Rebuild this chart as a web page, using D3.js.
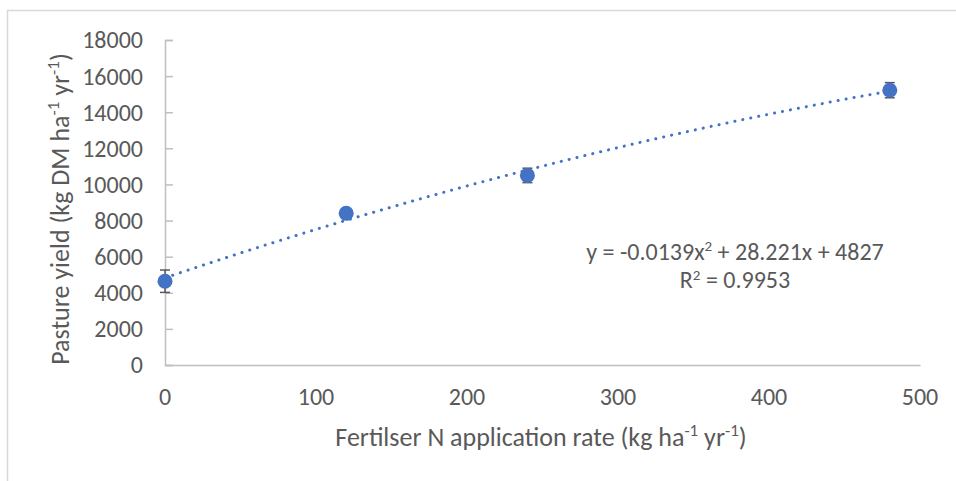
<!DOCTYPE html>
<html>
<head>
<meta charset="utf-8">
<script src="https://cdn.jsdelivr.net/npm/d3@7"></script>
<style>
  body { margin: 0; background: #fff; }
  text { font-family: Carlito, "Open Sans", "Liberation Sans", sans-serif; fill: #595959; }
</style>
</head>
<body>
<svg id="viz"></svg>
<script>
const width = 956
const height = 481

// data
const nRates = [0, 120, 240, 480]
const yields = [4640, 8400, 10500, 15220]
const yieldErr = [620, 180, 400, 420]
const trendCoef = [-0.0139, 28.221, 4827] // a, b, c
const yTicks = [0, 2000, 4000, 6000, 8000, 10000, 12000, 14000, 16000, 18000]
const xTicks = [0, 100, 200, 300, 400, 500]

const points = nRates.map((x, i) => ({ x: x, y: yields[i], e: yieldErr[i] }))

const margin = { top: 40, left: 165, right: 36, bottom: 116 }

const svg = d3.select('#viz').attr('width', width).attr('height', height)

// chart frame
svg
  .append('rect')
  .attr('x', 7.5)
  .attr('y', 10.5)
  .attr('width', width + 20)
  .attr('height', height + 20)
  .attr('fill', 'none')
  .attr('stroke', '#d9d9d9')
  .attr('stroke-width', 1.5)

const x = d3
  .scaleLinear()
  .domain([0, 500])
  .range([margin.left, width - margin.right])

const y = d3
  .scaleLinear()
  .domain([0, 18000])
  .range([height - margin.bottom, margin.top])

// y axis (ticks point inward, like Excel)
const yAxis = svg
  .append('g')
  .attr('transform', `translate(${margin.left}, 0)`)
  .call(d3.axisRight(y).tickValues(yTicks).tickSize(8).tickFormat(''))
yAxis.select('.domain').attr('stroke', '#bfbfbf').attr('stroke-width', 1.5)
yAxis.selectAll('.tick line').attr('stroke', '#bfbfbf').attr('stroke-width', 1.5)

svg
  .append('g')
  .selectAll('text')
  .data(yTicks)
  .join('text')
  .attr('x', margin.left - 22)
  .attr('y', (d) => y(d))
  .attr('dy', '0.35em')
  .attr('text-anchor', 'end')
  .attr('font-size', 24)
  .text((d) => d)

// x axis
const xAxis = svg
  .append('g')
  .attr('transform', `translate(0, ${y(0)})`)
  .call(d3.axisBottom(x).tickValues(xTicks).tickSize(0).tickFormat(''))
xAxis.select('.domain').attr('stroke', '#bfbfbf').attr('stroke-width', 1.5)

svg
  .append('g')
  .selectAll('text')
  .data(xTicks)
  .join('text')
  .attr('x', (d) => x(d))
  .attr('y', y(0) + 40)
  .attr('text-anchor', 'middle')
  .attr('font-size', 24)
  .text((d) => d)

// axis titles
const xTitle = svg
  .append('text')
  .attr('x', 541)
  .attr('y', 446)
  .attr('text-anchor', 'middle')
  .attr('font-size', 26)
xTitle.append('tspan').text('Fertilser N application rate (kg ha')
xTitle.append('tspan').attr('dy', -10).attr('font-size', 17).text('-1')
xTitle.append('tspan').attr('dy', 10).text(' yr')
xTitle.append('tspan').attr('dy', -10).attr('font-size', 17).text('-1')
xTitle.append('tspan').attr('dy', 10).text(')')

const yTitle = svg
  .append('text')
  .attr('transform', `translate(69, 209) rotate(-90)`)
  .attr('text-anchor', 'middle')
  .attr('font-size', 26)
yTitle.append('tspan').text('Pasture yield (kg DM ha')
yTitle.append('tspan').attr('dy', -10).attr('font-size', 17).text('-1')
yTitle.append('tspan').attr('dy', 10).text(' yr')
yTitle.append('tspan').attr('dy', -10).attr('font-size', 17).text('-1')
yTitle.append('tspan').attr('dy', 10).text(')')

// polynomial trendline from the fitted coefficients
const trendX = d3.range(0, 481, 4)
const trend = trendX.map((v) => ({
  x: v,
  y: trendCoef[0] * v * v + trendCoef[1] * v + trendCoef[2],
}))
svg
  .append('path')
  .datum(trend)
  .attr('fill', 'none')
  .attr('stroke', '#4472c4')
  .attr('stroke-width', 3)
  .attr('stroke-linecap', 'round')
  .attr('stroke-dasharray', '0.1 8')
  .attr(
    'd',
    d3
      .line()
      .x((d) => x(d.x))
      .y((d) => y(d.y))
  )

// error bars
const err = svg.append('g').attr('stroke', '#595959').attr('stroke-width', 1.5)
err
  .selectAll('.stem')
  .data(points)
  .join('line')
  .attr('x1', (d) => x(d.x))
  .attr('x2', (d) => x(d.x))
  .attr('y1', (d) => y(d.y - d.e))
  .attr('y2', (d) => y(d.y + d.e))
err
  .selectAll('.capTop')
  .data(points)
  .join('line')
  .attr('x1', (d) => x(d.x) - 5)
  .attr('x2', (d) => x(d.x) + 5)
  .attr('y1', (d) => y(d.y + d.e))
  .attr('y2', (d) => y(d.y + d.e))
err
  .selectAll('.capBot')
  .data(points)
  .join('line')
  .attr('x1', (d) => x(d.x) - 5)
  .attr('x2', (d) => x(d.x) + 5)
  .attr('y1', (d) => y(d.y - d.e))
  .attr('y2', (d) => y(d.y - d.e))

// markers
svg
  .append('g')
  .selectAll('circle')
  .data(points)
  .join('circle')
  .attr('cx', (d) => x(d.x))
  .attr('cy', (d) => y(d.y))
  .attr('r', 7.5)
  .attr('fill', '#4472c4')

// equation label
const eq = svg
  .append('text')
  .attr('x', 735)
  .attr('y', 260)
  .attr('text-anchor', 'middle')
  .attr('font-size', 24)
eq.append('tspan').text('y = -0.0139x')
eq.append('tspan').attr('dy', -9).attr('font-size', 15).text('2')
eq.append('tspan').attr('dy', 9).text(' + 28.221x + 4827')

const r2 = svg
  .append('text')
  .attr('x', 735)
  .attr('y', 288)
  .attr('text-anchor', 'middle')
  .attr('font-size', 24)
r2.append('tspan').text('R')
r2.append('tspan').attr('dy', -8).attr('font-size', 15).text('2')
r2.append('tspan').attr('dy', 8).text(' = 0.9953')
</script>
</body>
</html>
